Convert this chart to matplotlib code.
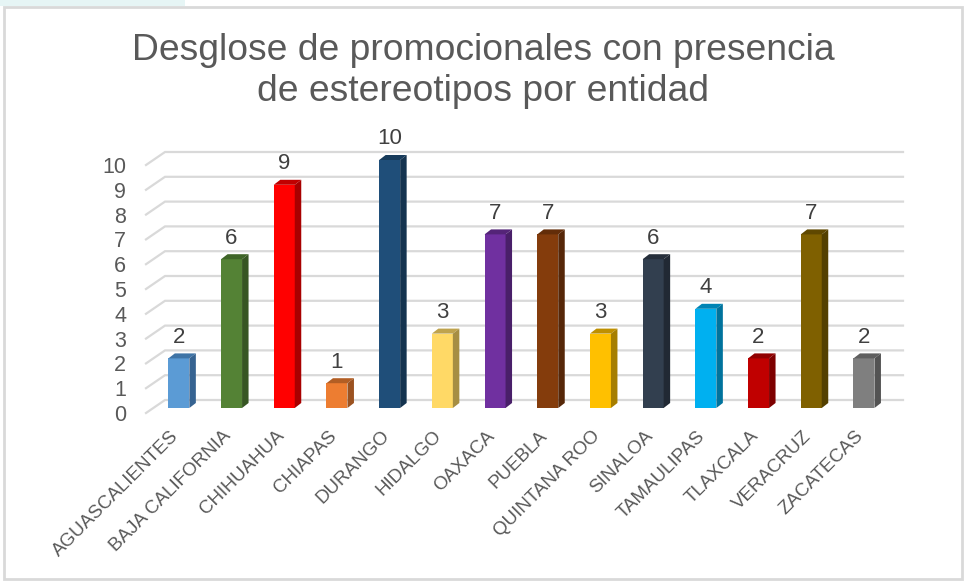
import matplotlib
matplotlib.use("Agg")
import matplotlib.pyplot as plt
from matplotlib.patches import Rectangle
from matplotlib.transforms import ScaledTranslation

plt.rcParams['font.family'] = ['Liberation Sans', 'DejaVu Sans']

entidades = ["AGUASCALIENTES", "BAJA CALIFORNIA", "CHIHUAHUA", "CHIAPAS", "DURANGO",
             "HIDALGO", "OAXACA", "PUEBLA", "QUINTANA ROO", "SINALOA",
             "TAMAULIPAS", "TLAXCALA", "VERACRUZ", "ZACATECAS"]
valores = [2, 6, 9, 1, 10, 3, 7, 7, 3, 6, 4, 2, 7, 2]
col_frente = ["#5B9BD5", "#548235", "#FF0000", "#ED7D31", "#1F4E79", "#FFD966", "#7030A0",
              "#843C0C", "#FFC000", "#323F4F", "#00B0F0", "#C00000", "#7F6000", "#7F7F7F"]
col_arriba = ["#3F74A6", "#3F6528", "#C00000", "#B25E24", "#173B5B", "#BFA34D", "#542478",
              "#632D09", "#BF9000", "#262F3B", "#0084B4", "#900000", "#5F4800", "#5F5F5F"]
col_lado = ["#366391", "#375623", "#A80000", "#9B5220", "#14334F", "#A68E43", "#491F69",
            "#562708", "#A67E00", "#212934", "#00739D", "#7E0000", "#534000", "#535353"]
titulo = "Desglose de promocionales con presencia\nde estereotipos por entidad"
gris = "#595959"

W, H = 965, 581
fig = plt.figure(figsize=(W / 100, H / 100), dpi=100)

# fondo del slide y marco del grafico
fig.add_artist(Rectangle((0, 1 - 6 / H), 185 / W, 6 / H, transform=fig.transFigure,
                         facecolor="#E6F5F5", edgecolor="none", zorder=-2))
fig.add_artist(Rectangle((3.5 / W, 2.5 / H), 958 / W, 572 / H, transform=fig.transFigure,
                         facecolor="white", edgecolor="#D9D9D9", linewidth=2, zorder=-1))

# plano frontal de las barras, en pixeles: x 152.5-890.3, y 408-160
ax = fig.add_axes([152.5 / W, (H - 408) / H, 737.8 / W, 248 / H])
ax.set_xlim(-0.5, 13.5)
ax.set_ylim(0, 10)
ax.patch.set_alpha(0)
for s in ax.spines.values():
    s.set_visible(False)

# profundidad 3D en unidades de datos
px_x = 14 / 737.8
px_y = 10 / 248
barra = 21 * px_x
prof_x, prof_y = 6.5 * px_x, 5 * px_y
fondo_x0, fondo_x1 = 165, 903
fondo_dy = 8 * px_y
piso_x0 = 146

ticks = list(range(11))
for v in ticks:
    x0 = (piso_x0 - 152.5) * px_x - 0.5
    x1 = (fondo_x0 - 152.5) * px_x - 0.5
    x2 = (fondo_x1 - 152.5) * px_x - 0.5
    ax.plot([x0, x1, x2], [v - 5 * px_y, v + fondo_dy, v + fondo_dy], color="#D9D9D9",
            lw=1.6, clip_on=False, zorder=1, solid_joinstyle="miter")

pos = list(range(len(valores)))
ax.bar(pos, valores, width=barra, color=col_frente, zorder=3, clip_on=False)
for i, v in zip(pos, valores):
    izq, der = i - barra / 2, i + barra / 2
    ax.fill([izq, der, der + prof_x, izq + prof_x], [v, v, v + prof_y, v + prof_y],
            color=col_arriba[i], lw=0, zorder=3, clip_on=False)
    ax.fill([der, der + prof_x, der + prof_x, der], [0, prof_y, v + prof_y, v],
            color=col_lado[i], lw=0, zorder=3, clip_on=False)
    ax.annotate(str(v), (i, v + prof_y), xytext=(0, 4), textcoords="offset points",
                ha="center", va="bottom", fontsize=16, color="#404040", zorder=4,
                annotation_clip=False)

ax.set_yticks(ticks)
ax.set_yticklabels([str(t) for t in ticks], fontsize=15.5, color=gris)
ax.tick_params(axis="y", length=0, pad=19)
bajar = ScaledTranslation(0, -5 / 100, fig.dpi_scale_trans)
for lab in ax.get_yticklabels():
    lab.set_transform(lab.get_transform() + bajar)

ax.set_xticks(pos)
ax.set_xticklabels(entidades, rotation=45, ha="right", va="top", rotation_mode="anchor",
                   fontsize=13.5, color=gris)
ax.tick_params(axis="x", length=0, pad=14)
izquierda = ScaledTranslation(-9 / 100, 0, fig.dpi_scale_trans)
for lab in ax.get_xticklabels():
    lab.set_transform(lab.get_transform() + izquierda)

fig.text(483 / W, 1 - 71 / H, titulo, ha="center", va="center", fontsize=26.8,
         color=gris, linespacing=1.19)

fig.savefig("out.png", dpi=100)
